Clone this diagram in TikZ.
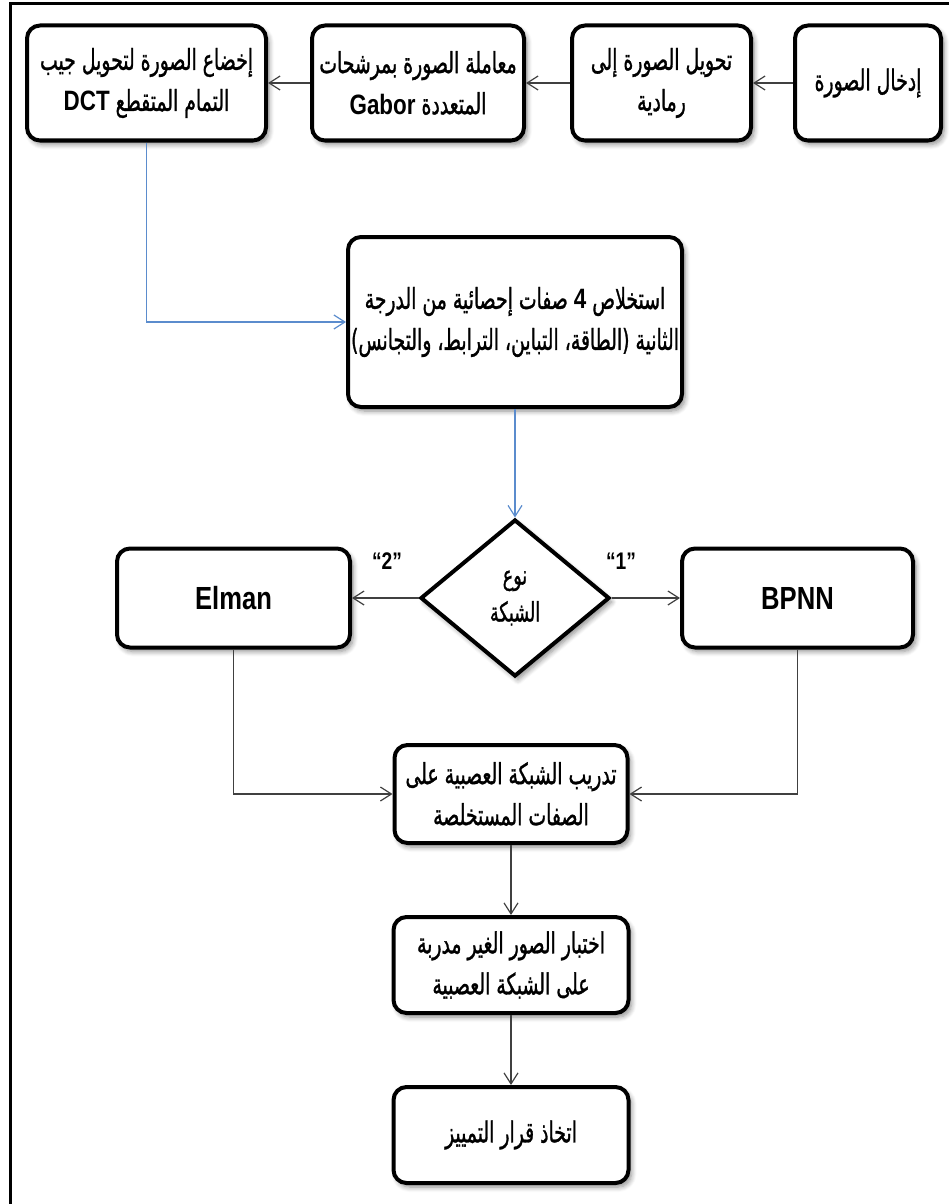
\documentclass[tikz,border=0pt]{standalone}
\usepackage{fontspec}
\setmainfont{Liberation Sans}
\newfontfamily\arabicfont[Script=Arabic,FakeStretch=0.65,FakeBold=1]{DejaVu Sans}
\newfontfamily\latinbold[FakeStretch=0.8]{Liberation Sans}
\TeXXeTstate=1
\usetikzlibrary{shapes.geometric,arrows.meta,shadows.blur}

\definecolor{linkblue}{RGB}{91,140,205}
\definecolor{linkgray}{RGB}{64,64,64}

% Latin words set inside right-to-left lines
\newcommand{\ltr}[1]{\beginL{\latinbold\bfseries\fontsize{28}{41}\selectfont #1}\endL}

\tikzset{
  softshadow/.style={blur shadow={shadow xshift=3pt,shadow yshift=-4pt,
      shadow blur radius=5pt,shadow blur steps=6,shadow opacity=45}},
  box/.style={draw=black,line width=4pt,rounded corners=13pt,fill=white,
      align=center,inner sep=0pt,softshadow,
      font=\arabicfont\fontsize{29}{41}\selectfont},
  decision/.style={diamond,draw=black,line width=4pt,fill=white,
      align=center,inner sep=0pt,softshadow,
      font=\arabicfont\fontsize{27}{37}\selectfont},
  latinbox/.style={box,font=\latinbold\bfseries\fontsize{32}{34}\selectfont},
  conn/.style={draw=linkgray,line width=1.4pt,
      -{Straight Barb[length=11pt,width=14pt,line width=1.2pt]}},
  blueconn/.style={draw=linkblue,line width=1.4pt,
      -{Straight Barb[length=11pt,width=14pt,line width=1.2pt]}},
  branch/.style={font=\latinbold\bfseries\fontsize{24}{26}\selectfont}
}

\begin{document}
\begin{tikzpicture}[x=1pt,y=-1pt]
\useasboundingbox (0,0) rectangle (949,1204);

% page frame
\draw[line width=3pt] (10,1204) -- (10,3.5) -- (949,3.5);

% top row
\node[box,minimum width=146pt,minimum height=115pt] (d) at (868,83)
  {\beginR إدخال الصورة\endR};
\node[box,minimum width=179pt,minimum height=115pt] (c) at (661.5,83)
  {\beginR تحويل الصورة إلى\endR\\ \beginR رمادية\endR};
\node[box,minimum width=212pt,minimum height=115pt] (b) at (418,83)
  {\beginR معاملة الصورة بمرشحات\endR\\ \beginR المتعددة \ltr{Gabor}\endR};
\node[box,minimum width=239pt,minimum height=115pt] (a) at (146.5,83)
  {\beginR إخضاع الصورة لتحويل جيب\endR\\ \beginR التمام المتقطع \ltr{DCT}\endR};

% feature extraction
\node[box,minimum width=334pt,minimum height=170pt] (e) at (515,322)
  {\beginR استخلاص \ltr{4} صفات إحصائية من الدرجة\endR\\
   \beginR الثانية (الطاقة، التباين، الترابط، والتجانس)\endR};

% network choice
\node[decision,minimum width=189pt,minimum height=157pt] (dia) at (515,598)
  {\beginR نوع\endR\\ \beginR الشبكة\endR};
\node[latinbox,minimum width=233pt,minimum height=99pt] (elman) at (233.5,598) {Elman};
\node[latinbox,minimum width=231pt,minimum height=99pt] (bpnn) at (797.5,598) {BPNN};
\node[branch] (two) at (387,561) {“2”};
\node[branch] (one) at (621,561) {“1”};

% training, testing, decision
\node[box,minimum width=233pt,minimum height=98pt] (f) at (511,794)
  {\beginR تدريب الشبكة العصبية على\endR\\ \beginR الصفات المستخلصة\endR};
\node[box,minimum width=235pt,minimum height=96pt] (g) at (511,965)
  {\beginR اختبار الصور الغير مدربة\endR\\ \beginR على الشبكة العصبية\endR};
\node[box,minimum width=235pt,minimum height=96pt] (h) at (511,1135)
  {\beginR اتخاذ قرار التمييز\endR};

% connectors
\draw[conn] (d) -- (c);
\draw[conn] (c) -- (b);
\draw[conn] (b) -- (a);
\draw[blueconn] (a.south) |- (e.west);
\draw[blueconn] (e.south) -- (dia.north);
\draw[conn] (dia.west) -- (elman.east);
\draw[conn] (dia.east) -- (bpnn.west);
\draw[conn] (elman.south) |- (f.west);
\draw[conn] (bpnn.south) |- (f.east);
\draw[conn] (f) -- (g);
\draw[conn] (g) -- (h);
\end{tikzpicture}
\end{document}
